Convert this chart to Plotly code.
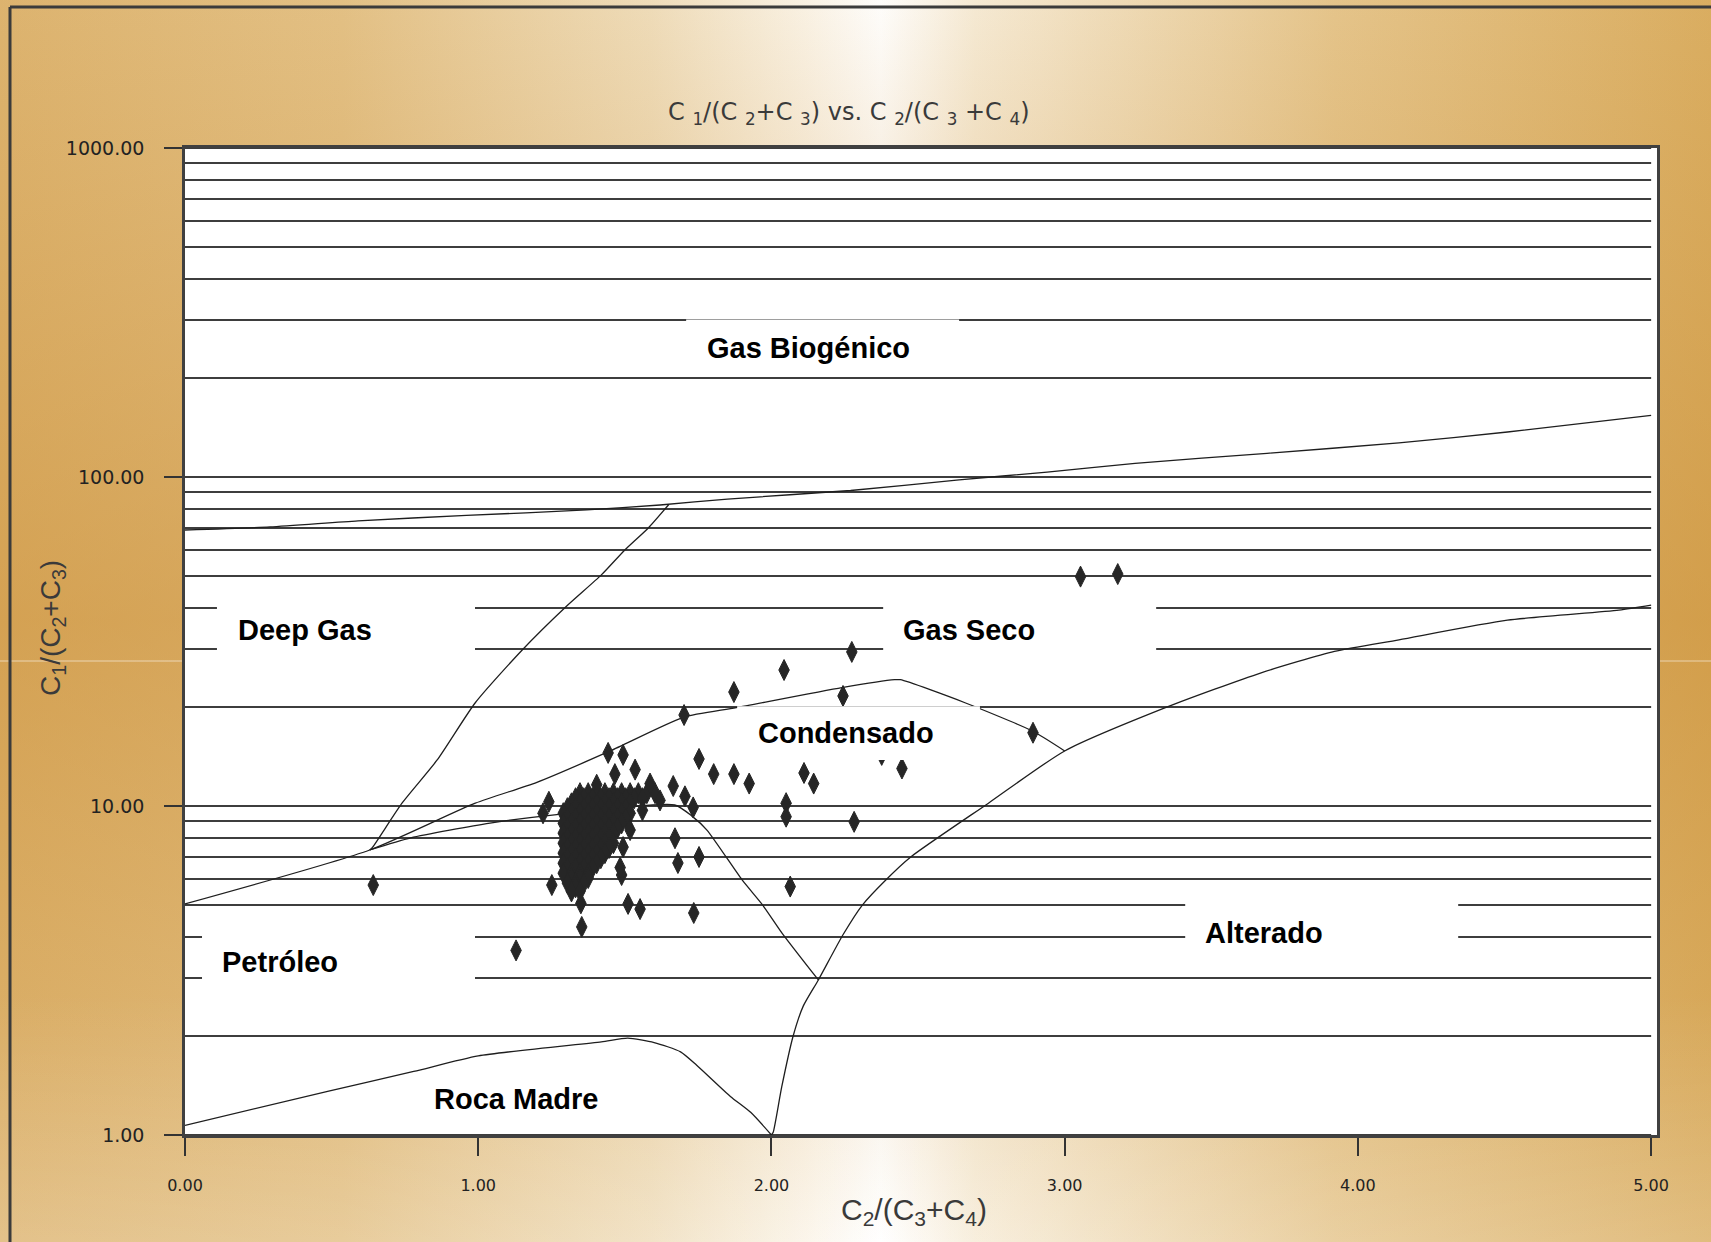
import base64
import plotly.graph_objects as go

# ---------------- boundary curves: x = C2/(C3+C4), y = C1/(C2+C3) ----------------
biogenic_x = [0.0, 0.29, 0.59, 0.96, 1.37, 1.62, 1.85, 2.27, 2.64, 2.94, 3.24, 3.69, 4.14, 4.51, 5.0]
biogenic_y = [69, 70.5, 73.6, 76.4, 79.4, 82.2, 85.7, 91, 98, 103.5, 110, 118, 127, 137, 154]

deepgas_x = [0.63, 0.64, 0.74, 0.86, 0.99, 1.15, 1.30, 1.42, 1.50, 1.58, 1.65]
deepgas_y = [7.35, 7.5, 10.2, 13.8, 20.6, 29.8, 40.4, 50.4, 60, 70, 82.5]

condensate_x = [0.0, 0.63, 0.99, 1.2, 1.45, 1.7, 1.88, 2.24, 2.42, 2.44, 2.66, 2.89, 3.0]
condensate_y = [5.04, 7.35, 10.2, 11.8, 14.7, 18.6, 19.9, 22.9, 24.2, 24.2, 20.6, 16.9, 14.7]

oil_x = [0.63, 0.77, 1.04, 1.26, 1.67, 1.73, 1.78, 1.90, 1.97, 2.036, 2.16]
oil_y = [7.35, 8.0, 8.87, 9.4, 10.07, 9.3, 8.45, 5.96, 5.0, 4.11, 2.96]

altered_x = [2.0, 2.006, 2.035, 2.074, 2.108, 2.16, 2.244, 2.31, 2.39, 2.475, 2.74, 3.0,
             3.35, 3.67, 3.92, 4.14, 4.51, 4.89, 5.0]
altered_y = [1.0, 1.02, 1.40, 2.0, 2.46, 2.96, 4.06, 5.0, 5.96, 7.0, 10.2, 14.7,
             20.0, 25.4, 29.5, 32, 36.7, 39.4, 40.8]

source_x = [0.0, 0.49, 0.78, 1.0, 1.42, 1.51, 1.60, 1.69, 1.745, 1.86, 1.93, 2.0]
source_y = [1.07, 1.36, 1.56, 1.74, 1.92, 1.97, 1.91, 1.79, 1.63, 1.31, 1.17, 1.0]

# ---------------- gas ratio samples ----------------
# scattered samples
sample_x = [
    0.642, 1.129, 3.054, 3.181, 2.274, 2.043, 1.872, 2.244, 1.702, 2.892, 2.445, 2.376,
    1.753, 1.803, 1.872, 1.924, 2.111, 2.144, 2.05, 2.05, 2.282, 2.064, 1.671, 1.681,
    1.753, 1.735, 1.552, 1.511, 1.353, 1.251, 1.489, 1.443, 1.494, 1.241, 1.221,
    1.404, 1.466, 1.535, 1.586, 1.665, 1.705, 1.733, 1.62, 1.56, 1.518, 1.494, 1.484,
]
sample_y = [
    5.75, 3.64, 49.8, 50.7, 29.4, 25.9, 22.2, 21.6, 18.9, 16.7, 13.0, 14.3,
    13.9, 12.5, 12.5, 11.7, 12.6, 11.7, 10.2, 9.28, 8.95, 5.69, 7.98, 6.71,
    7.0, 4.73, 4.86, 5.04, 4.29, 5.75, 6.17, 14.5, 14.3, 10.3, 9.5,
    11.6, 12.5, 12.9, 11.7, 11.5, 10.7, 9.9, 10.4, 9.7, 8.45, 7.5, 6.5,
]
# dense cluster of samples around C2/(C3+C4) ~ 1.3-1.5
cluster_x = [
    1.347, 1.375, 1.404, 1.432, 1.461, 1.489, 1.518, 1.546, 1.575, 1.603,
    1.332, 1.36, 1.389, 1.418, 1.446, 1.475, 1.503, 1.532, 1.56,
    1.318, 1.347, 1.375, 1.404, 1.432, 1.461, 1.489, 1.518,
    1.304, 1.332, 1.36, 1.389, 1.418, 1.446, 1.475, 1.503,
    1.29, 1.318, 1.347, 1.375, 1.404, 1.432, 1.461, 1.489, 1.518,
    1.304, 1.332, 1.36, 1.389, 1.418, 1.446, 1.475, 1.503,
    1.29, 1.318, 1.347, 1.375, 1.404, 1.432, 1.461, 1.489,
    1.304, 1.332, 1.36, 1.389, 1.418, 1.446, 1.475,
    1.29, 1.318, 1.347, 1.375, 1.404, 1.432, 1.461,
    1.304, 1.332, 1.36, 1.389, 1.418, 1.446,
    1.29, 1.318, 1.347, 1.375, 1.404, 1.432, 1.461,
    1.304, 1.332, 1.36, 1.389, 1.418, 1.446,
    1.29, 1.318, 1.347, 1.375, 1.404, 1.432,
    1.304, 1.332, 1.36, 1.389, 1.418,
    1.29, 1.318, 1.347, 1.375, 1.404,
    1.304, 1.332, 1.36, 1.389,
    1.29, 1.318, 1.347, 1.375,
    1.318, 1.347, 1.375,
    1.304, 1.332, 1.36,
    1.332,
    1.318, 1.347,
    1.35,
]
cluster_y = [
    10.94, 10.94, 10.94, 10.94, 10.94, 10.94, 10.94, 10.94, 10.94, 10.94,
    10.56, 10.56, 10.56, 10.56, 10.56, 10.56, 10.56, 10.56, 10.56,
    10.19, 10.19, 10.19, 10.19, 10.19, 10.19, 10.19, 10.19,
    9.85, 9.85, 9.85, 9.85, 9.85, 9.85, 9.85, 9.85,
    9.51, 9.51, 9.51, 9.51, 9.51, 9.51, 9.51, 9.51, 9.51,
    9.18, 9.18, 9.18, 9.18, 9.18, 9.18, 9.18, 9.18,
    8.86, 8.86, 8.86, 8.86, 8.86, 8.86, 8.86, 8.86,
    8.56, 8.56, 8.56, 8.56, 8.56, 8.56, 8.56,
    8.27, 8.27, 8.27, 8.27, 8.27, 8.27, 8.27,
    7.99, 7.99, 7.99, 7.99, 7.99, 7.99,
    7.71, 7.71, 7.71, 7.71, 7.71, 7.71, 7.71,
    7.45, 7.45, 7.45, 7.45, 7.45, 7.45,
    7.19, 7.19, 7.19, 7.19, 7.19, 7.19,
    6.94, 6.94, 6.94, 6.94, 6.94,
    6.70, 6.70, 6.70, 6.70, 6.70,
    6.47, 6.47, 6.47, 6.47,
    6.25, 6.25, 6.25, 6.25,
    6.04, 6.04, 6.04,
    5.83, 5.83, 5.83,
    5.66,
    5.50, 5.50,
    5.06,
]

# ---------------- axes ----------------
grid_values = [1, 2, 3, 4, 5, 6, 7, 8, 9,
               10, 20, 30, 40, 50, 60, 70, 80, 90,
               100, 200, 300, 400, 500, 600, 700, 800, 900, 1000]
x_ticks = [0, 1, 2, 3, 4, 5]
x_tick_text = ["0.00", "1.00", "2.00", "3.00", "4.00", "5.00"]
y_ticks = [1, 10, 100, 1000]
y_tick_text = ["1.00", "10.00", "100.00", "1000.00"]

# ---------------- page geometry ----------------
W, H = 1711, 1242
ML, MR, MT, MB = 185, 54, 148, 107
PW, PH = W - ML - MR, H - MT - MB


def px_x(px):
    return (px - ML) / PW


def px_y(py):
    return (H - MB - py) / PH


# golden slide background with a bright vertical band
bg_svg = f"""<svg xmlns='http://www.w3.org/2000/svg' width='{W}' height='{H}' viewBox='0 0 {W} {H}' preserveAspectRatio='none'>
<defs>
<linearGradient id='h' x1='0' y1='0' x2='1' y2='0'>
<stop offset='0' stop-color='#DDB470'/>
<stop offset='0.20' stop-color='#E3C186'/>
<stop offset='0.38' stop-color='#EFDDBB'/>
<stop offset='0.47' stop-color='#FAF3E6'/>
<stop offset='0.515' stop-color='#FFFFFF'/>
<stop offset='0.57' stop-color='#F6EBD6'/>
<stop offset='0.78' stop-color='#E5C58C'/>
<stop offset='1' stop-color='#DAAE62'/>
</linearGradient>
<linearGradient id='v' x1='0' y1='0' x2='0' y2='1'>
<stop offset='0' stop-color='#C98A2E' stop-opacity='0.02'/>
<stop offset='0.5' stop-color='#C98A2E' stop-opacity='0.45'/>
<stop offset='1' stop-color='#C98A2E' stop-opacity='0'/>
</linearGradient>
<linearGradient id='b' x1='0' y1='0' x2='0' y2='1'>
<stop offset='0.8' stop-color='#FFFFFF' stop-opacity='0'/>
<stop offset='1' stop-color='#FFFFFF' stop-opacity='0.18'/>
</linearGradient>
</defs>
<rect width='{W}' height='{H}' fill='url(#h)'/>
<rect width='{W}' height='{H}' fill='url(#v)'/>
<rect width='{W}' height='{H}' fill='url(#b)'/>
</svg>"""
bg_src = "data:image/svg+xml;base64," + base64.b64encode(bg_svg.encode()).decode()

fig = go.Figure()

curve_style = dict(color="#1e1e1e", width=1.3, shape="spline", smoothing=0.6)
for cx, cy in [(biogenic_x, biogenic_y), (deepgas_x, deepgas_y), (condensate_x, condensate_y),
               (oil_x, oil_y), (altered_x, altered_y), (source_x, source_y)]:
    fig.add_trace(go.Scatter(x=cx, y=cy, mode="lines", line=curve_style,
                             hoverinfo="skip", showlegend=False))

marker_style = dict(symbol="diamond-tall", size=15, color="#262626",
                    line=dict(color="#262626", width=1))
fig.add_trace(go.Scatter(x=cluster_x, y=cluster_y, mode="markers",
                         marker=marker_style, showlegend=False))
fig.add_trace(go.Scatter(x=sample_x, y=sample_y, mode="markers",
                         marker=marker_style, showlegend=False))

shapes = []
# faint seam across the slide background
shapes.append(dict(type="line", xref="paper", yref="paper",
                   x0=px_x(0), x1=px_x(W), y0=px_y(661), y1=px_y(661),
                   line=dict(color="rgba(255,255,255,0.55)", width=1), layer="below"))
# white plotting area
shapes.append(dict(type="rect", xref="paper", yref="paper", x0=0, x1=1, y0=0, y1=1,
                   fillcolor="white", line=dict(width=0), layer="below"))
# dark frame on the top and left of the slide
shapes.append(dict(type="line", xref="paper", yref="paper",
                   x0=px_x(10), x1=px_x(W), y0=px_y(7), y1=px_y(7),
                   line=dict(color="#3b3b3b", width=3), layer="below"))
shapes.append(dict(type="line", xref="paper", yref="paper",
                   x0=px_x(10), x1=px_x(10), y0=px_y(7), y1=px_y(H),
                   line=dict(color="#3b3b3b", width=3), layer="below"))
# horizontal log grid
for v in grid_values:
    shapes.append(dict(type="line", xref="x", yref="y", x0=0, x1=5, y0=v, y1=v,
                       line=dict(color="#3d3d3d", width=2), layer="below"))

# white label boxes (x0, x1, y0, y1 in data units)
label_boxes = [
    (1.709, 2.640, 206, 301),
    (0.109, 0.989, 28.4, 42),
    (2.381, 3.312, 28.4, 42),
    (1.883, 2.711, 13.8, 20.1),
    (0.058, 0.989, 2.92, 4.05),
    (3.411, 4.342, 3.41, 5.04),
]
for x0, x1, y0, y1 in label_boxes:
    shapes.append(dict(type="rect", xref="x", yref="y", x0=x0, x1=x1, y0=y0, y1=y1,
                       fillcolor="white", line=dict(width=0), layer="above"))

# zone labels (x in data units, y as log10)
zone_labels = [
    ("Gas Biogénico", 2.125, 2.392),
    ("Deep Gas", 0.408, 1.536),
    ("Gas Seco", 2.674, 1.536),
    ("Condensado", 2.253, 1.222),
    ("Petróleo", 0.325, 0.525),
    ("Alterado", 3.679, 0.614),
    ("Roca Madre", 1.129, 0.109),
]
annotations = []
for text, ax_, ay_ in zone_labels:
    annotations.append(dict(text=f"<b>{text}</b>", x=ax_, y=ay_, xref="x", yref="y",
                            showarrow=False, xanchor="center", yanchor="middle",
                            font=dict(family="Liberation Sans", size=29, color="#000000")))

annotations.append(dict(
    text="C <sub>1</sub>/(C <sub>2</sub>+C <sub>3</sub>) vs. C <sub>2</sub>/(C <sub>3</sub> +C <sub>4</sub>)",
    x=px_x(849), y=px_y(113), xref="paper", yref="paper", showarrow=False,
    xanchor="center", yanchor="middle",
    font=dict(family="DejaVu Sans", size=24, color="#3a3a3a")))
annotations.append(dict(
    text="C<sub>2</sub>/(C<sub>3</sub>+C<sub>4</sub>)",
    x=px_x(914), y=px_y(1211), xref="paper", yref="paper", showarrow=False,
    xanchor="center", yanchor="middle",
    font=dict(family="Liberation Sans", size=30, color="#3a3a3a")))
annotations.append(dict(
    text="C<sub>1</sub>/(C<sub>2</sub>+C<sub>3</sub>)",
    x=px_x(52), y=px_y(628), xref="paper", yref="paper", showarrow=False,
    xanchor="center", yanchor="middle", textangle=-90,
    font=dict(family="Liberation Sans", size=28, color="#3a3a3a")))

fig.update_layout(
    width=W, height=H,
    margin=dict(l=ML, r=MR, t=MT, b=MB, pad=0),
    paper_bgcolor="#E2C088",
    plot_bgcolor="white",
    showlegend=False,
    shapes=shapes,
    annotations=annotations,
    images=[dict(source=bg_src, xref="paper", yref="paper",
                 x=px_x(0), y=px_y(0), sizex=W / PW, sizey=H / PH,
                 xanchor="left", yanchor="top", sizing="stretch", layer="below")],
    xaxis=dict(
        range=[0, 5.02], tickvals=x_ticks, ticktext=x_tick_text,
        showgrid=False, zeroline=False,
        showline=True, mirror=True, linecolor="#404040", linewidth=2.5,
        ticks="outside", ticklen=18, tickwidth=2, tickcolor="#333333",
        ticklabelstandoff=16,
        tickfont=dict(family="DejaVu Sans", size=16, color="#222222"),
    ),
    yaxis=dict(
        type="log", range=[0, 3], tickvals=y_ticks, ticktext=y_tick_text,
        showgrid=False, zeroline=False,
        showline=True, mirror=True, linecolor="#404040", linewidth=2.5,
        ticks="outside", ticklen=18, tickwidth=2, tickcolor="#333333",
        ticklabelstandoff=16,
        tickfont=dict(family="DejaVu Sans", size=19, color="#222222"),
    ),
)

fig.write_html("out.html")
